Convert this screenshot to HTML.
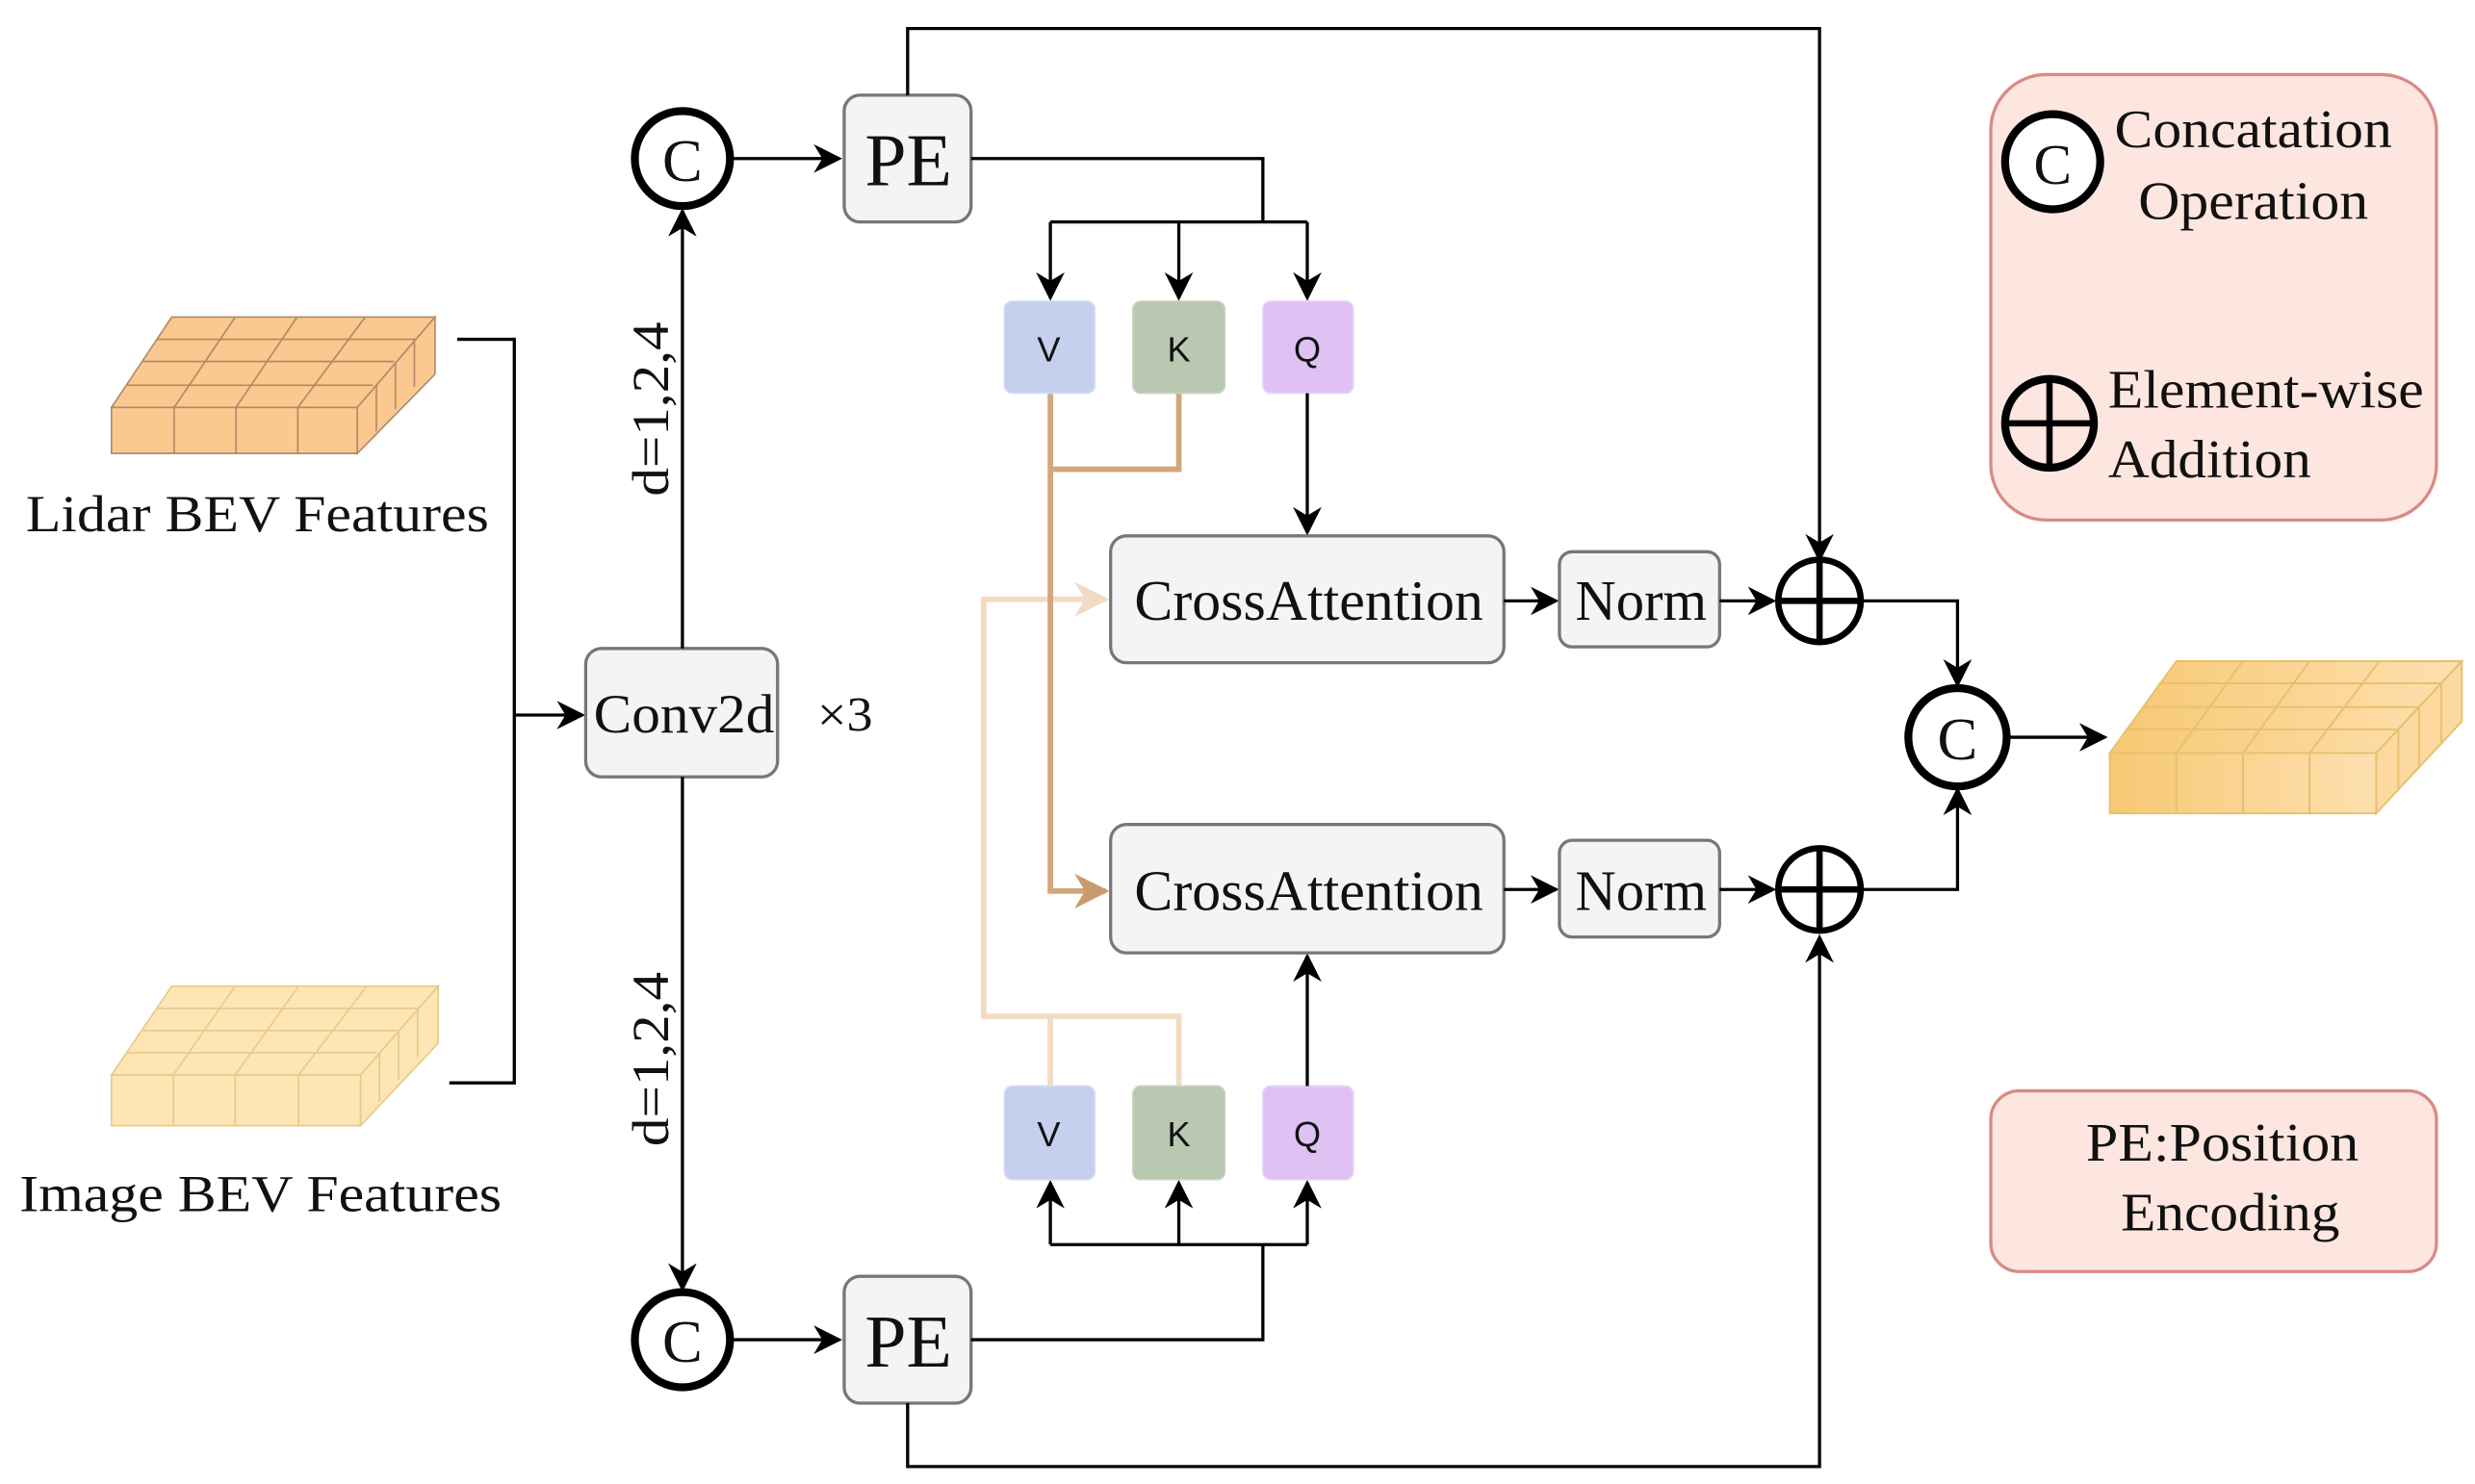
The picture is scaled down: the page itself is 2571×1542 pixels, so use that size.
<!DOCTYPE html>
<html><head><meta charset="utf-8"><style>
html,body{margin:0;padding:0;background:#fff;}
svg{display:block;}
text{font-family:"Liberation Serif",serif;fill:#111;}
.s{font-family:"Liberation Sans",sans-serif;}
</style></head><body>
<svg width="2571" height="1542" viewBox="0 0 1560 936" xmlns="http://www.w3.org/2000/svg">
<defs>
<marker id="a" viewBox="0 0 10 10" refX="9" refY="5" markerWidth="7" markerHeight="7" orient="auto" markerUnits="userSpaceOnUse"><path d="M0,0 L10,5 L0,10 L3,5z" fill="#000"/></marker>
<marker id="big" viewBox="0 0 10 10" refX="9" refY="5" markerWidth="22" markerHeight="22" orient="auto" markerUnits="userSpaceOnUse"><path d="M0,0 L10,5 L0,10 L3,5z" fill="#c89a6c"/></marker>
<marker id="bigl" viewBox="0 0 10 10" refX="9" refY="5" markerWidth="22" markerHeight="22" orient="auto" markerUnits="userSpaceOnUse"><path d="M0,0 L10,5 L0,10 L3,5z" fill="#f3dbc3"/></marker>
<marker id="am" viewBox="0 0 10 10" refX="9" refY="5" markerWidth="18" markerHeight="18" orient="auto" markerUnits="userSpaceOnUse"><path d="M0,0 L10,5 L0,10 L3,5z" fill="#000"/></marker>
<linearGradient id="og" x1="0" x2="1"><stop offset="0" stop-color="#f7c873"/><stop offset="1" stop-color="#fde0b0"/></linearGradient>
</defs>

<!-- Legends -->
<rect x="1255" y="47" width="281" height="281" rx="35" fill="#fde6df" stroke="#d98a85" stroke-width="2"/>
<circle cx="1294" cy="102" r="30" fill="#fff" stroke="#000" stroke-width="5"/>
<text x="1294" y="116" font-size="36" text-anchor="middle">C</text>
<text x="1333" y="93" font-size="34" textLength="175" lengthAdjust="spacingAndGlyphs">Concatation</text>
<text x="1348" y="138" font-size="34" textLength="145" lengthAdjust="spacingAndGlyphs">Operation</text>
<circle cx="1292" cy="267" r="28" fill="none" stroke="#000" stroke-width="5"/>
<line x1="1264" y1="267" x2="1320" y2="267" stroke="#000" stroke-width="4"/>
<line x1="1292" y1="239" x2="1292" y2="295" stroke="#000" stroke-width="4"/>
<text x="1329" y="257" font-size="34" textLength="199" lengthAdjust="spacingAndGlyphs">Element-wise</text>
<text x="1329" y="301" font-size="34" textLength="128" lengthAdjust="spacingAndGlyphs">Addition</text>
<rect x="1255" y="688" width="281" height="114" rx="18" fill="#fde6df" stroke="#d98a85" stroke-width="2"/>
<text x="1315" y="732" font-size="34" textLength="172" lengthAdjust="spacingAndGlyphs">PE:Position</text>
<text x="1337" y="776" font-size="34" textLength="138" lengthAdjust="spacingAndGlyphs">Encoding</text>

<!-- Lidar cube -->
<g stroke="#b08a68" stroke-width="1" fill="#fbc890">
<polygon points="70,257 108,200 274,200 225,257"/>
<polygon points="225,257 274,200 274,236 225,286"/>
<rect x="70" y="257" width="155" height="29"/>
<path d="M109.5,257 V286 M148.5,257 V286 M187.5,257 V286 M79.5,243 H235 M89,228 H248 M98.5,214 H262 M109.5,257 L148,200 M148.5,257 L187,200 M187.5,257 L230,200 M237,243 V272 M249,228 V258 M261,214 V244" fill="none"/>
</g>
<text x="16" y="335" font-size="33" textLength="292" lengthAdjust="spacingAndGlyphs">Lidar BEV Features</text>
<!-- Image cube -->
<g stroke="#e8c98a" stroke-width="1" fill="#fde5b4">
<polygon points="70,678 108,622 276,622 227,678"/>
<polygon points="227,678 276,622 276,658 227,710"/>
<rect x="70" y="678" width="157" height="32"/>
<path d="M109,678 V710 M148,678 V710 M188,678 V710 M79.5,664 H237 M89,650 H250 M98.5,636 H264 M109,678 L148,622 M148,678 L188,622 M188,678 L231,622 M239,664 V695 M251,650 V681 M263,636 V667" fill="none"/>
</g>
<text x="12" y="764" font-size="33" textLength="304" lengthAdjust="spacingAndGlyphs">Image BEV Features</text>
<!-- Output cube -->
<g stroke="#e7c070" stroke-width="1.2" fill="url(#og)">
<polygon points="1330,475 1372,417 1552,417 1498,475"/>
<polygon points="1498,475 1552,417 1552,455 1498,513" fill="#fbd9a0"/>
<rect x="1330" y="475" width="168" height="38"/>
<path d="M1372,475 V513 M1414,475 V513 M1456,475 V513 M1340,460 H1512 M1351,446 H1525 M1361,431 H1539 M1372,475 L1414,417 M1414,475 L1456,417 M1456,475 L1500,417 M1512,460 V498 M1525,446 V484 M1539,431 V469" fill="none"/>
</g>

<!-- Left bracket -->
<path d="M288,214 H324 V683 H283" fill="none" stroke="#000" stroke-width="2"/>
<line x1="324" y1="451" x2="367" y2="451" stroke="#000" stroke-width="2" marker-end="url(#am)"/>

<!-- Conv2d -->
<rect x="369" y="409" width="121" height="81" rx="10" fill="#f4f4f4" stroke="#777" stroke-width="2"/>
<text x="374" y="462" font-size="35" textLength="114" lengthAdjust="spacingAndGlyphs">Conv2d</text>
<text x="515" y="461" font-size="31" textLength="35" lengthAdjust="spacingAndGlyphs">×3</text>
<line x1="430" y1="409" x2="430" y2="133" stroke="#000" stroke-width="2" marker-end="url(#am)"/>
<line x1="430" y1="490" x2="430" y2="813" stroke="#000" stroke-width="2" marker-end="url(#am)"/>
<text transform="translate(421,313) rotate(-90)" font-size="33" textLength="110" lengthAdjust="spacingAndGlyphs">d=1,2,4</text>
<text transform="translate(421,723) rotate(-90)" font-size="33" textLength="110" lengthAdjust="spacingAndGlyphs">d=1,2,4</text>

<!-- C circles -->
<circle cx="430" cy="100" r="30" fill="#fff" stroke="#000" stroke-width="5"/>
<text x="430" y="114" font-size="38" text-anchor="middle">C</text>
<circle cx="430" cy="845" r="30" fill="#fff" stroke="#000" stroke-width="5"/>
<text x="430" y="859" font-size="38" text-anchor="middle">C</text>
<line x1="460" y1="100" x2="529" y2="100" stroke="#000" stroke-width="2" marker-end="url(#am)"/>
<line x1="460" y1="845" x2="529" y2="845" stroke="#000" stroke-width="2" marker-end="url(#am)"/>

<!-- PE boxes -->
<rect x="532" y="60" width="80" height="80" rx="10" fill="#f4f4f4" stroke="#777" stroke-width="2"/>
<text x="545" y="117" font-size="47" textLength="55" lengthAdjust="spacingAndGlyphs">PE</text>
<rect x="532" y="805" width="80" height="80" rx="10" fill="#f4f4f4" stroke="#777" stroke-width="2"/>
<text x="545" y="862" font-size="47" textLength="55" lengthAdjust="spacingAndGlyphs">PE</text>

<!-- long lines -->
<path d="M572,60 V18 H1147 V353" fill="none" stroke="#000" stroke-width="2" marker-end="url(#am)"/>
<path d="M572,885 V925 H1147 V591" fill="none" stroke="#000" stroke-width="2" marker-end="url(#am)"/>

<!-- top PE to VKQ -->
<path d="M612,100 H796 V140" fill="none" stroke="#000" stroke-width="2"/>
<path d="M662,140 H824" fill="none" stroke="#000" stroke-width="2"/>
<line x1="662" y1="140" x2="662" y2="188" stroke="#000" stroke-width="2" marker-end="url(#am)"/>
<line x1="743" y1="140" x2="743" y2="188" stroke="#000" stroke-width="2" marker-end="url(#am)"/>
<line x1="824" y1="140" x2="824" y2="188" stroke="#000" stroke-width="2" marker-end="url(#am)"/>
<!-- bottom PE to VKQ -->
<path d="M612,845 H796 V785" fill="none" stroke="#000" stroke-width="2"/>
<path d="M662,785 H824" fill="none" stroke="#000" stroke-width="2"/>
<line x1="662" y1="785" x2="662" y2="746" stroke="#000" stroke-width="2" marker-end="url(#am)"/>
<line x1="743" y1="785" x2="743" y2="746" stroke="#000" stroke-width="2" marker-end="url(#am)"/>
<line x1="824" y1="785" x2="824" y2="746" stroke="#000" stroke-width="2" marker-end="url(#am)"/>

<!-- light path -->
<path d="M662,685 V641 M743,685 V641 H620 V378 H697" fill="none" stroke="#f3dbc3" stroke-width="3.5" marker-end="url(#bigl)"/>
<!-- brown path -->
<path d="M743,248 V296 H662" fill="none" stroke="#d2a77b" stroke-width="3.5"/>
<path d="M662,248 V562 H697" fill="none" stroke="#d2a77b" stroke-width="3.5" marker-end="url(#big)"/>

<!-- VKQ boxes top -->
<rect x="633" y="190" width="57" height="58" rx="5" fill="#c5cfee" stroke="#d4dcf4"/>
<rect x="714" y="190" width="58" height="58" rx="5" fill="#b9c8b0" stroke="#c8d4c0"/>
<rect x="796" y="190" width="57" height="58" rx="5" fill="#dfc2f3" stroke="#e8d2f7"/>
<text class="s" x="661" y="228" font-size="22" text-anchor="middle">V</text>
<text class="s" x="743" y="228" font-size="22" text-anchor="middle">K</text>
<text class="s" x="824" y="228" font-size="22" text-anchor="middle">Q</text>
<!-- VKQ bottom -->
<rect x="633" y="685" width="57" height="59" rx="5" fill="#c5cfee" stroke="#d4dcf4"/>
<rect x="714" y="685" width="58" height="59" rx="5" fill="#b9c8b0" stroke="#c8d4c0"/>
<rect x="796" y="685" width="57" height="59" rx="5" fill="#dfc2f3" stroke="#e8d2f7"/>
<text class="s" x="661" y="723" font-size="22" text-anchor="middle">V</text>
<text class="s" x="743" y="723" font-size="22" text-anchor="middle">K</text>
<text class="s" x="824" y="723" font-size="22" text-anchor="middle">Q</text>

<line x1="824" y1="248" x2="824" y2="336" stroke="#000" stroke-width="2" marker-end="url(#am)"/>
<line x1="824" y1="685" x2="824" y2="603" stroke="#000" stroke-width="2" marker-end="url(#am)"/>

<!-- CrossAttention -->
<rect x="700" y="338" width="248" height="80" rx="10" fill="#f4f4f4" stroke="#777" stroke-width="2"/>
<text x="715" y="391" font-size="36" textLength="220" lengthAdjust="spacingAndGlyphs">CrossAttention</text>
<rect x="700" y="520" width="248" height="81" rx="10" fill="#f4f4f4" stroke="#777" stroke-width="2"/>
<text x="715" y="574" font-size="36" textLength="220" lengthAdjust="spacingAndGlyphs">CrossAttention</text>
<line x1="948" y1="379" x2="981" y2="379" stroke="#000" stroke-width="2" marker-end="url(#am)"/>
<line x1="948" y1="561" x2="981" y2="561" stroke="#000" stroke-width="2" marker-end="url(#am)"/>
<rect x="983" y="348" width="101" height="60" rx="8" fill="#f4f4f4" stroke="#777" stroke-width="2"/>
<text x="993" y="391" font-size="36" textLength="83" lengthAdjust="spacingAndGlyphs">Norm</text>
<rect x="983" y="530" width="101" height="61" rx="8" fill="#f4f4f4" stroke="#777" stroke-width="2"/>
<text x="993" y="574" font-size="36" textLength="83" lengthAdjust="spacingAndGlyphs">Norm</text>
<line x1="1084" y1="379" x2="1118" y2="379" stroke="#000" stroke-width="2" marker-end="url(#am)"/>
<line x1="1084" y1="561" x2="1118" y2="561" stroke="#000" stroke-width="2" marker-end="url(#am)"/>

<!-- plus circles -->
<g stroke="#000" stroke-width="4" fill="none">
<circle cx="1147" cy="379" r="26"/><path d="M1121,379 H1173 M1147,353 V405"/>
<circle cx="1147" cy="561" r="26"/><path d="M1121,561 H1173 M1147,535 V587"/>
</g>
<path d="M1173,379 H1234 V432" fill="none" stroke="#000" stroke-width="2" marker-end="url(#am)"/>
<path d="M1173,561 H1234 V498" fill="none" stroke="#000" stroke-width="2" marker-end="url(#am)"/>
<circle cx="1234" cy="465" r="31" fill="#fff" stroke="#000" stroke-width="5"/>
<text x="1234" y="479" font-size="38" text-anchor="middle">C</text>
<line x1="1265" y1="465" x2="1327" y2="465" stroke="#000" stroke-width="2" marker-end="url(#am)"/>
</svg>
</body></html>
